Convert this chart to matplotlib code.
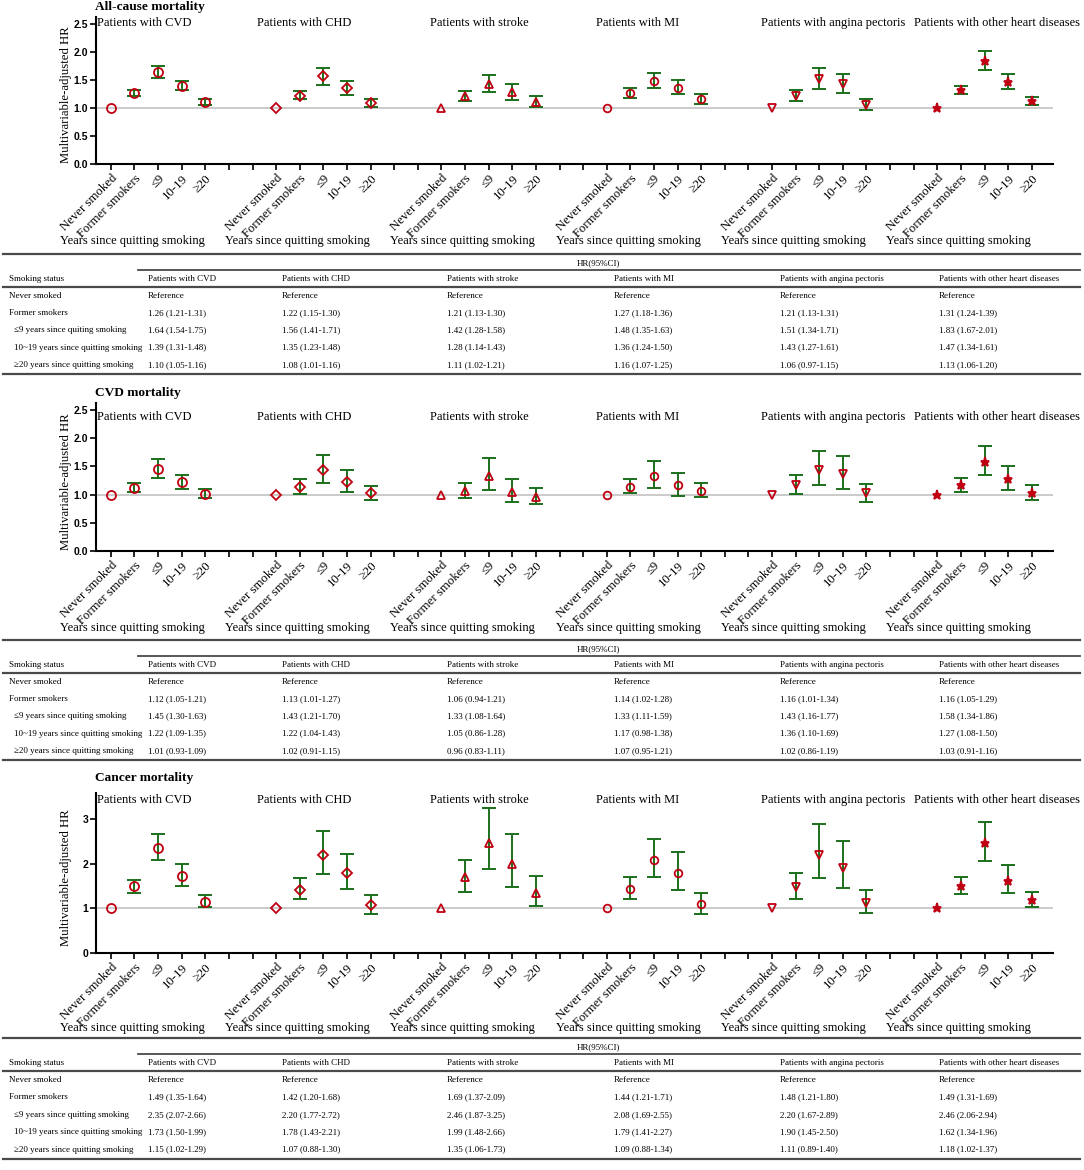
import matplotlib
matplotlib.use('Agg')
import matplotlib.pyplot as plt
import matplotlib.transforms as mtransforms
from matplotlib.lines import Line2D

W, H = 1084, 1170

# ---------------- data ----------------
groups = ["CVD", "CHD", "stroke", "MI", "angina pectoris", "other heart diseases"]
group_titles = ["Patients with " + g for g in groups]
categories = ["Never smoked", "Former smokers", "\u22649", "10-19", "\u226520"]
table_rows_a = ["Never smoked", "Former smokers",
                "\u22649 years since quiting smoking",
                "10~19 years since quitting smoking",
                "\u226520 years since quitting smoking"]
table_rows_b = ["Never smoked", "Former smokers",
                "\u22649 years since quitting smoking",
                "10~19 years since quitting smoking",
                "\u226520 years since quitting smoking"]
reference_hr = 1.0

# rows: Former smokers, <=9, 10-19, >=20 ; columns: groups
allcause_hr = [[1.26, 1.22, 1.21, 1.27, 1.21, 1.31],
               [1.64, 1.56, 1.42, 1.48, 1.51, 1.83],
               [1.39, 1.35, 1.28, 1.36, 1.43, 1.47],
               [1.10, 1.08, 1.11, 1.16, 1.06, 1.13]]
allcause_lo = [[1.21, 1.15, 1.13, 1.18, 1.13, 1.24],
               [1.54, 1.41, 1.28, 1.35, 1.34, 1.67],
               [1.31, 1.23, 1.14, 1.24, 1.27, 1.34],
               [1.05, 1.01, 1.02, 1.07, 0.97, 1.06]]
allcause_hi = [[1.31, 1.30, 1.30, 1.36, 1.31, 1.39],
               [1.75, 1.71, 1.58, 1.63, 1.71, 2.01],
               [1.48, 1.48, 1.43, 1.50, 1.61, 1.61],
               [1.16, 1.16, 1.21, 1.25, 1.15, 1.20]]

cvd_hr = [[1.12, 1.13, 1.06, 1.14, 1.16, 1.16],
          [1.45, 1.43, 1.33, 1.33, 1.43, 1.58],
          [1.22, 1.22, 1.05, 1.17, 1.36, 1.27],
          [1.01, 1.02, 0.96, 1.07, 1.02, 1.03]]
cvd_lo = [[1.05, 1.01, 0.94, 1.02, 1.01, 1.05],
          [1.30, 1.21, 1.08, 1.11, 1.16, 1.34],
          [1.09, 1.04, 0.86, 0.98, 1.10, 1.08],
          [0.93, 0.91, 0.83, 0.95, 0.86, 0.91]]
cvd_hi = [[1.21, 1.27, 1.21, 1.28, 1.34, 1.29],
          [1.63, 1.70, 1.64, 1.59, 1.77, 1.86],
          [1.35, 1.43, 1.28, 1.38, 1.69, 1.50],
          [1.09, 1.15, 1.11, 1.21, 1.19, 1.16]]

cancer_hr = [[1.49, 1.42, 1.69, 1.44, 1.48, 1.49],
             [2.35, 2.20, 2.46, 2.08, 2.20, 2.46],
             [1.73, 1.78, 1.99, 1.79, 1.90, 1.62],
             [1.15, 1.07, 1.35, 1.09, 1.11, 1.18]]
cancer_lo = [[1.35, 1.20, 1.37, 1.21, 1.21, 1.31],
             [2.07, 1.77, 1.87, 1.69, 1.67, 2.06],
             [1.50, 1.43, 1.48, 1.41, 1.45, 1.34],
             [1.02, 0.88, 1.06, 0.88, 0.89, 1.02]]
cancer_hi = [[1.64, 1.68, 2.09, 1.71, 1.80, 1.69],
             [2.66, 2.72, 3.25, 2.55, 2.89, 2.94],
             [1.99, 2.21, 2.66, 2.27, 2.50, 1.96],
             [1.29, 1.30, 1.73, 1.34, 1.40, 1.37]]

allcause_yticks = [0.0, 0.5, 1.0, 1.5, 2.0, 2.5]
cancer_yticks = [0, 1, 2, 3]

# ---------------- style ----------------
SERIF = ['Liberation Serif', 'DejaVu Serif']
SANS = ['Liberation Sans', 'DejaVu Sans']
RED = '#c00012'
GREEN = '#1b6f1b'
REFGRAY = '#bdbdbd'
LINEGRAY = '#4a4a4a'

markers = ['o', 'D', '^', 'o', 'v', '*']
msizes = [6.5, 5.0, 6.0, 5.5, 6.0, 6.5]
filled = [False, False, False, False, False, True]

# group layout: 5 points per group, 2 empty tick slots between groups
STEP = 7
title_xdata = [None, 8.2, 15.6, 22.3, 30.6, None]

fig = plt.figure(figsize=(W / 100, H / 100), dpi=100)


def fx(px):
    return px / W


def fy(py):
    return 1 - py / H


def add_axes_px(left, top, right, bottom):
    return fig.add_axes([fx(left), fy(bottom), (right - left) / W, (bottom - top) / H])


def draw_panel(ax, hr, lo, hi, yticks, ylim, fmt):
    ax.set_xlim(-0.63, 39.9)
    ax.set_ylim(*ylim)
    ax.axhline(reference_hr, color=REFGRAY, lw=1.1, zorder=1)
    for g in range(len(groups)):
        x0 = STEP * g
        fc = RED if filled[g] else 'none'
        ax.plot([x0], [reference_hr], ls='none', marker=markers[g], ms=msizes[g],
                mec=RED, mfc=fc, mew=1.3, zorder=4)
        xs = [x0 + 1 + k for k in range(4)]
        ys = [hr[k][g] for k in range(4)]
        el = [hr[k][g] - lo[k][g] for k in range(4)]
        eh = [hi[k][g] - hr[k][g] for k in range(4)]
        ax.errorbar(xs, ys, yerr=[el, eh], fmt='none', ecolor=GREEN,
                    elinewidth=1.4, capsize=5, capthick=1.4, zorder=2)
        ax.plot(xs, ys, ls='none', marker=markers[g], ms=msizes[g],
                mec=RED, mfc=fc, mew=1.3, zorder=4)
    ticks = list(range(0, STEP * len(groups) - 2))
    labels = []
    for t in ticks:
        k = t % STEP
        labels.append(categories[k] if k < 5 else '')
    ax.set_xticks(ticks)
    ax.set_xticklabels(labels, rotation=45, ha='right', va='top',
                       rotation_mode='anchor', fontsize=9.2, family=SERIF)
    ax.set_yticks(yticks)
    ax.set_yticklabels([fmt.format(v) for v in yticks], fontsize=7.5,
                       family=SANS, fontweight='bold')
    ax.tick_params(axis='x', length=4, width=1.2, pad=2)
    ax.tick_params(axis='y', length=4, width=1.2, pad=1.5)
    for s in ['top', 'right']:
        ax.spines[s].set_visible(False)
    for s in ['left', 'bottom']:
        ax.spines[s].set_linewidth(1.5)
    ax.set_ylabel('Multivariable-adjusted HR', fontsize=9.2, family=SERIF)
    ax.yaxis.set_label_coords(-24 / 957, 0.47)
    ax.patch.set_alpha(0)


def draw_table(y0, pitch, hr, lo, hi, rows):
    fs = 6.5
    colx = [148, 282, 447, 614, 780, 939]
    fig.add_artist(Line2D([fx(3), fx(1080)], [fy(y0), fy(y0)], color=LINEGRAY, lw=1.6))
    fig.text(fx(577), fy(y0 + 9), 'HR(95%CI)', fontsize=fs, family=SERIF, va='center', ha='left')
    fig.add_artist(Line2D([fx(138), fx(1080)], [fy(y0 + 16), fy(y0 + 16)], color=LINEGRAY, lw=1.3))
    fig.text(fx(9), fy(y0 + 25), 'Smoking status', fontsize=fs, family=SERIF, va='center')
    for g in range(len(groups)):
        fig.text(fx(colx[g]), fy(y0 + 25), group_titles[g], fontsize=fs, family=SERIF, va='center')
    fig.add_artist(Line2D([fx(3), fx(1080)], [fy(y0 + 33), fy(y0 + 33)], color=LINEGRAY, lw=1.6))
    for r in range(5):
        yy = y0 + 42 + pitch * r
        indent = 9 if r < 2 else 14
        fig.text(fx(indent), fy(yy), rows[r], fontsize=fs, family=SERIF, va='center')
        for g in range(len(groups)):
            if r == 0:
                s = 'Reference'
            else:
                s = '{:.2f} ({:.2f}-{:.2f})'.format(hr[r - 1][g], lo[r - 1][g], hi[r - 1][g])
            fig.text(fx(colx[g]), fy(yy), s, fontsize=fs, family=SERIF, va='center')
    yb = y0 + 42 + pitch * 4 + 9
    fig.add_artist(Line2D([fx(3), fx(1080)], [fy(yb), fy(yb)], color=LINEGRAY, lw=1.6))


sections = [
    dict(title='All-cause mortality', ty=7, top=17, bottom=164, ylim=(0, 2.62),
         yticks=allcause_yticks, fmt='{:.1f}', gty=23, yly=241,
         hr=allcause_hr, lo=allcause_lo, hi=allcause_hi, t0=254, pitch=17.2, rows=table_rows_a),
    dict(title='CVD mortality', ty=393, top=403, bottom=551, ylim=(0, 2.62),
         yticks=allcause_yticks, fmt='{:.1f}', gty=417, yly=628,
         hr=cvd_hr, lo=cvd_lo, hi=cvd_hi, t0=640, pitch=17.2, rows=table_rows_a),
    dict(title='Cancer mortality', ty=778, top=793, bottom=953, ylim=(0, 3.58),
         yticks=cancer_yticks, fmt='{:d}', gty=800, yly=1028,
         hr=cancer_hr, lo=cancer_lo, hi=cancer_hi, t0=1038, pitch=17.4, rows=table_rows_b),
]

for sec in sections:
    ax = add_axes_px(96, sec['top'], 1053, sec['bottom'])
    draw_panel(ax, sec['hr'], sec['lo'], sec['hi'], sec['yticks'], sec['ylim'], sec['fmt'])
    fig.text(fx(95), fy(sec['ty']), sec['title'], fontsize=9.6, family=SERIF,
             fontweight='bold', va='center', ha='left')
    trans = mtransforms.blended_transform_factory(ax.transData, fig.transFigure)
    for g in range(len(groups)):
        if g == 0:
            fig.text(fx(97), fy(sec['gty']), group_titles[g], fontsize=9.0,
                     family=SERIF, va='center', ha='left')
        elif g == len(groups) - 1:
            fig.text(fx(1080), fy(sec['gty']), group_titles[g], fontsize=9.0,
                     family=SERIF, va='center', ha='right')
        else:
            ax.text(title_xdata[g], fy(sec['gty']), group_titles[g], transform=trans,
                    fontsize=9.0, family=SERIF, va='center', ha='center', clip_on=False)
        ax.text(STEP * g + 0.9, fy(sec['yly']), 'Years since quitting smoking',
                transform=trans, fontsize=9.0, family=SERIF, va='center',
                ha='center', clip_on=False)
    draw_table(sec['t0'], sec['pitch'], sec['hr'], sec['lo'], sec['hi'], sec['rows'])

fig.savefig('out.png', dpi=100)
